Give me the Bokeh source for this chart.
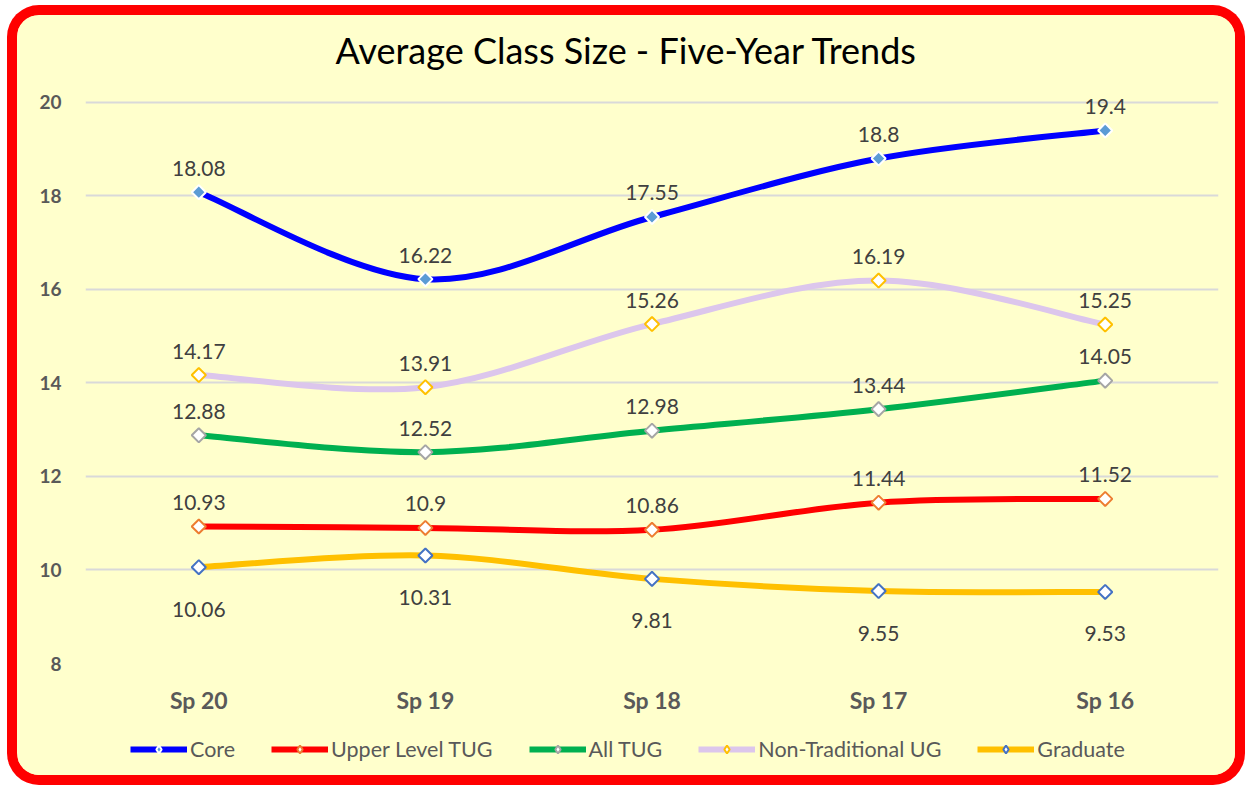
import math
from bokeh.plotting import figure
from bokeh.layouts import column
from bokeh.models import Range1d, FixedTicker, Legend, LegendItem, ColumnDataSource
from bokeh.core.properties import value
from bokeh.embed import file_html
from bokeh.resources import INLINE

# ---------------- data ----------------
categories = ["Sp 20", "Sp 19", "Sp 18", "Sp 17", "Sp 16"]
core = [18.08, 16.22, 17.55, 18.8, 19.4]
upper_level_tug = [10.93, 10.9, 10.86, 11.44, 11.52]
all_tug = [12.88, 12.52, 12.98, 13.44, 14.05]
non_traditional_ug = [14.17, 13.91, 15.26, 16.19, 15.25]
graduate = [10.06, 10.31, 9.81, 9.55, 9.53]
y_ticks = [8, 10, 12, 14, 16, 18, 20]
series_names = ["Core", "Upper Level TUG", "All TUG", "Non-Traditional UG", "Graduate"]
series_values = [core, upper_level_tug, all_tug, non_traditional_ug, graduate]

# ---------------- styles ----------------
line_colors = ["#0000FF", "#FF0000", "#00B050", "#DCC6EC", "#FFC000"]
marker_fill = ["#5B9BD5", "#FFFFFF", "#FFFFFF", "#FFFFFF", "#FFFFFF"]
marker_line = ["#FFFFFF", "#ED7D31", "#A5A5A5", "#FFC000", "#4472C4"]
label_below = [False, False, False, False, True]
FONT = "Lato"
BG = "#FFFFCC"
W, H_MAIN, H_LEG = 1218, 705, 55

xs = [i + 0.5 for i in range(len(categories))]


def bezier_segments(px, py, t=1.0 / 6.0):
    n = len(px)
    seg = dict(x0=[], y0=[], x1=[], y1=[], cx0=[], cy0=[], cx1=[], cy1=[])
    for i in range(n - 1):
        a = max(i - 1, 0)
        d = min(i + 2, n - 1)
        seg["x0"].append(px[i]); seg["y0"].append(py[i])
        seg["x1"].append(px[i + 1]); seg["y1"].append(py[i + 1])
        seg["cx0"].append(px[i] + (px[i + 1] - px[a]) * t)
        seg["cy0"].append(py[i] + (py[i + 1] - py[a]) * t)
        seg["cx1"].append(px[i + 1] - (px[d] - px[i]) * t)
        seg["cy1"].append(py[i + 1] - (py[d] - py[i]) * t)
    return seg


# ---------------- main chart ----------------
fig = figure(
    width=W, height=H_MAIN,
    x_range=Range1d(0, 5), y_range=Range1d(8, 20.64),
    output_backend="svg", toolbar_location=None,
    min_border_left=68, min_border_right=17, min_border_top=57, min_border_bottom=57,
    background_fill_color=BG, border_fill_color=BG,
    outline_line_color=None,
)

fig.title.text = "Average Class Size - Five-Year Trends"
fig.title.text_font = FONT
fig.title.text_font_size = "36px"
fig.title.text_font_style = "normal"
fig.title.text_color = "#000000"
fig.title.align = "left"
fig.title.offset = 250
fig.title.standoff = 2

fig.xgrid.grid_line_color = None
fig.ygrid.grid_line_color = "#D9D9D9"
fig.ygrid.grid_line_width = 2
fig.yaxis.ticker = FixedTicker(ticks=y_ticks)
fig.xaxis.ticker = FixedTicker(ticks=xs)
fig.xaxis.major_label_overrides = {x: c for x, c in zip(xs, categories)}

for ax in (fig.xaxis, fig.yaxis):
    ax.axis_line_color = None
    ax.major_tick_line_color = None
    ax.minor_tick_line_color = None
    ax.major_label_text_font = FONT
    ax.major_label_text_font_style = "bold"
    ax.major_label_text_color = "#595959"
fig.yaxis.major_label_text_font_size = "19px"
fig.yaxis.major_label_standoff = 18
fig.xaxis.major_label_text_font_size = "23px"
fig.xaxis.major_label_standoff = 16

for name, vals, lc, mf, ml, below in zip(series_names, series_values, line_colors,
                                        marker_fill, marker_line, label_below):
    seg = bezier_segments(xs, vals)
    fig.bezier(source=ColumnDataSource(seg), x0="x0", y0="y0", x1="x1", y1="y1",
               cx0="cx0", cy0="cy0", cx1="cx1", cy1="cy1",
               line_color=lc, line_width=6)
    src = ColumnDataSource(dict(x=xs, y=vals, lab=[str(v) for v in vals]))
    fig.scatter("x", "y", source=src, marker="square", angle=math.pi / 4, size=10,
                fill_color=mf, line_color=ml, line_width=2)
    fig.text("x", "y", text="lab", source=src, text_font=value(FONT), text_font_size="21px",
             text_color="#404040", text_align="center", text_baseline="alphabetic",
             y_offset=42 if below else -24)

# ---------------- legend strip (series drawn out of view; only the legend shows) ----
leg = figure(
    width=W, height=H_LEG, x_range=Range1d(0, 5), y_range=Range1d(0, 1),
    output_backend="svg", toolbar_location=None,
    x_axis_location=None, y_axis_location=None,
    min_border_left=0, min_border_right=0, min_border_top=0, min_border_bottom=0,
    background_fill_color=BG, border_fill_color=BG, outline_line_color=None,
)
leg.xgrid.grid_line_color = None
leg.ygrid.grid_line_color = None

items = []
for name, vals, lc, mf, ml in zip(series_names, series_values, line_colors,
                                  marker_fill, marker_line):
    lsrc = ColumnDataSource(dict(x=xs, y=vals))
    lr = leg.line("x", "y", source=lsrc, line_color=lc, line_width=6)
    mr = leg.scatter("x", "y", source=lsrc, marker="diamond", size=14,
                     fill_color=mf, line_color=ml, line_width=2)
    items.append(LegendItem(label=name, renderers=[lr, mr]))

legend = Legend(items=items, orientation="horizontal", location=(45, 13),
                padding=0, margin=0, spacing=36, label_standoff=3,
                glyph_width=57, glyph_height=20, label_height=20,
                label_text_font=FONT, label_text_font_size="21.5px",
                label_text_color="#595959",
                background_fill_alpha=0, border_line_alpha=0)
leg.add_layout(legend, "center")

p = column(fig, leg, spacing=0,
           styles={"margin-left": "17px", "margin-top": "15px",
                   "box-shadow": "0 0 0 10px #FF0000",
                   "border-radius": "22px", "overflow": "hidden",
                   "background-color": BG})

open("out.html", "w").write(file_html(p, INLINE))
